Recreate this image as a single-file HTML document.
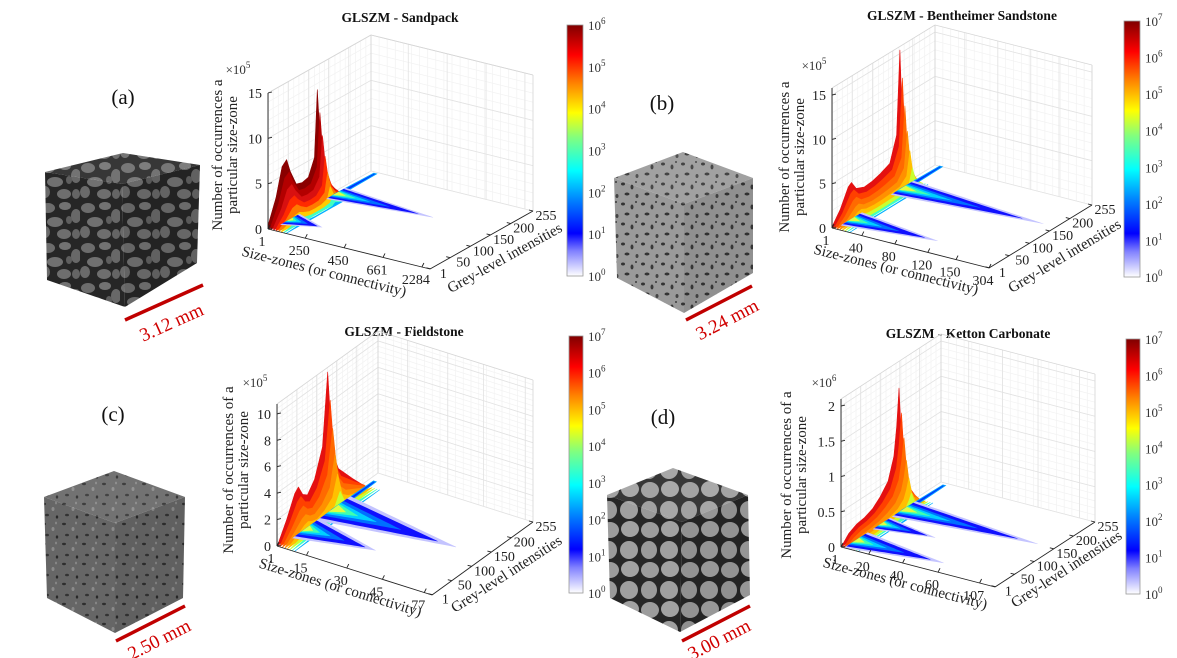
<!DOCTYPE html>
<html><head><meta charset="utf-8">
<style>
html,body{margin:0;padding:0;background:#fff;}
svg{display:block;font-family:"Liberation Serif",serif;}
</style></head>
<body>
<svg id="fig" width="1177" height="658" viewBox="0 0 1177 658" xmlns="http://www.w3.org/2000/svg">
<defs>
 <linearGradient id="cbGrad" x1="0" y1="1" x2="0" y2="0">
  <stop offset="0" stop-color="#ffffff"/><stop offset="0.1" stop-color="#8080ff"/>
  <stop offset="0.17" stop-color="#0000ff"/><stop offset="0.3" stop-color="#0080ff"/>
  <stop offset="0.42" stop-color="#00ffff"/><stop offset="0.55" stop-color="#80ff80"/>
  <stop offset="0.65" stop-color="#ffff00"/><stop offset="0.77" stop-color="#ff8000"/>
  <stop offset="0.88" stop-color="#ff0000"/><stop offset="1" stop-color="#800000"/>
 </linearGradient>
 <pattern id="texA" width="40" height="40" patternUnits="userSpaceOnUse">
  <rect width="40" height="40" fill="#262626"/>
  <ellipse cx="8" cy="8" rx="7" ry="5" fill="#6c6c6c"/><ellipse cx="25" cy="6" rx="6" ry="4" fill="#727272"/>
  <ellipse cx="36" cy="16" rx="5" ry="7" fill="#686868"/><ellipse cx="15" cy="22" rx="8" ry="5" fill="#707070"/>
  <ellipse cx="5" cy="32" rx="5" ry="6" fill="#6a6a6a"/><ellipse cx="24" cy="34" rx="7" ry="5" fill="#6e6e6e"/>
  <ellipse cx="36" cy="34" rx="4" ry="5" fill="#646464"/><ellipse cx="29" cy="20" rx="3" ry="4" fill="#5e5e5e"/>
 </pattern>
 <pattern id="texB" width="20" height="20" patternUnits="userSpaceOnUse">
  <rect width="20" height="20" fill="#9a9a9a"/>
  <ellipse cx="3" cy="4" rx="2" ry="1.5" fill="#333"/><ellipse cx="12" cy="7" rx="1.5" ry="2.5" fill="#3a3a3a"/>
  <ellipse cx="7" cy="14" rx="2.5" ry="1.5" fill="#333"/><ellipse cx="17" cy="16" rx="1.5" ry="2" fill="#444"/>
  <ellipse cx="16" cy="2" rx="1" ry="1" fill="#3a3a3a"/>
 </pattern>
 <pattern id="texC" width="20" height="20" patternUnits="userSpaceOnUse">
  <rect width="20" height="20" fill="#666"/>
  <ellipse cx="4" cy="4" rx="2" ry="1.2" fill="#2e2e2e"/><ellipse cx="13" cy="9" rx="1.5" ry="2" fill="#8a8a8a"/>
  <ellipse cx="7" cy="15" rx="2" ry="1.3" fill="#333"/><ellipse cx="17" cy="17" rx="1.2" ry="1.6" fill="#2a2a2a"/>
  <ellipse cx="16" cy="3" rx="1" ry="1.4" fill="#888"/>
 </pattern>
 <pattern id="texD" width="40" height="40" patternUnits="userSpaceOnUse">
  <rect width="40" height="40" fill="#262626"/>
  <ellipse cx="10" cy="10" rx="9" ry="8" fill="#9c9c9c"/><ellipse cx="30" cy="9" rx="9" ry="8" fill="#a2a2a2"/>
  <ellipse cx="9" cy="30" rx="8" ry="9" fill="#9a9a9a"/><ellipse cx="29" cy="30" rx="9" ry="9" fill="#a0a0a0"/>
 </pattern>
</defs>
</svg>
<script>
// ---------- chart data ----------
const yTickLabels = [1, 50, 100, 150, 200, 255];
const cbExps = [[0,1,2,3,4,5,6],[0,1,2,3,4,5,6,7],[0,1,2,3,4,5,6,7],[0,1,2,3,4,5,6,7]];

const aGrey = [1, 20, 35, 46, 55, 70, 85, 100, 115, 122, 130, 145, 166];
const aWall = [0.5, 3, 6, 6.5, 5, 3.2, 3, 3.2, 5, 12.3, 6, 2, 0];
const aTailGrey = [46, 160];
const aTailLen = [0.2, 0.6];
const aTailWidth = [24, 24];
const aZTicks = [0, 5, 10, 15];
const aXTickLabels = ['1', '250', '450', '661', '2284'];
const aXTickPos = [0, 0.23, 0.47, 0.71, 0.95];

const bGrey = [1, 20, 40, 48, 60, 80, 100, 120, 143, 160, 168, 176, 194];
const bWall = [0.2, 1.5, 3.5, 3.8, 2.8, 2.4, 2.5, 2.8, 3.3, 6, 15.4, 5, 0];
const bTailGrey = [40, 166];
const bTailLen = [0.55, 0.9];
const bTailWidth = [26, 28];
const bZTicks = [0, 5, 10, 15];
const bXTickLabels = ['1', '40', '80', '120', '150', '304'];
const bXTickPos = [0, 0.19, 0.4, 0.61, 0.79, 1.0];

const cGrey = [1, 25, 45, 54, 65, 77, 95, 115, 128, 140, 155, 190, 215];
const cWall = [0, 1.5, 3, 3.3, 2.5, 2.2, 3, 5, 10.4, 4, 2.5, 1, 0];
const cTailGrey = [65, 135];
const cTailLen = [0.45, 0.79];
const cTailWidth = [34, 42];
const cZTicks = [0, 2, 4, 6, 8, 10];
const cXTickLabels = ['1', '15', '30', '45', '77'];
const cXTickPos = [0, 0.19, 0.45, 0.68, 0.95];

const dGrey = [1, 20, 40, 60, 80, 100, 120, 135, 142, 148, 155, 165, 190];
const dWall = [0, 0.12, 0.18, 0.2, 0.25, 0.35, 0.5, 0.8, 1.2, 1.72, 0.9, 0.35, 0];
const dTailGrey = [30, 95, 152];
const dTailLen = [0.57, 0.35, 0.87];
const dTailWidth = [30, 22, 30];
const dZTicks = [0, 0.5, 1, 1.5, 2];
const dXTickLabels = ['1', '20', '40', '60', '107'];
const dXTickPos = [0, 0.18, 0.4, 0.63, 0.9];

// ---------- helpers ----------
const NS = 'http://www.w3.org/2000/svg';
const svg = document.getElementById('fig');
function mk(tag, attrs, parent) {
  const e = document.createElementNS(NS, tag);
  for (const k in attrs) e.setAttribute(k, attrs[k]);
  (parent || svg).appendChild(e);
  return e;
}
function pts(a) { return a.map(p => p[0].toFixed(1) + ',' + p[1].toFixed(1)).join(' '); }

const panels = [
 {id:'a', title:'GLSZM - Sandpack', tx:400, ty:22, O:[268,229], X:[162,40], Y:[103,-58], H:136, zBox:15,
  grey:aGrey, wall:aWall, tg:aTailGrey, tl:aTailLen, tw:aTailWidth, zt:aZTicks, xl:aXTickLabels, xp:aXTickPos, branchTo:250,
  exp:'5', ex:238, ey:74, cb:[567,25,16,251], cbE:cbExps[0],
  zl:['Number of occurrences a','particular size-zone'], zlx:222, zly:155,
  xlab:[323,276,14], ylab:[507,262,-29], dark:true,
  lab:'(a)', labx:123, laby:104, cube:{top:[123,153],left:[45,172],right:[200,165],bl:[47,280],bf:[125,307],br:[197,263],tex:'texA'},
  scale:{x1:125,y1:320,x2:203,y2:285,text:'3.12 mm',cx:174,cy:328}},
 {id:'b', title:'GLSZM - Bentheimer Sandstone', tx:962, ty:20, O:[832,228], X:[157,40], Y:[103,-63], H:140, zBox:15.8,
  grey:bGrey, wall:bWall, tg:bTailGrey, tl:bTailLen, tw:bTailWidth, zt:bZTicks, xl:bXTickLabels, xp:bXTickPos, branchTo:255,
  exp:'5', ex:814, ey:70, cb:[1124,21,16,256], cbE:cbExps[1],
  zl:['Number of occurrences a','particular size-zone'], zlx:789, zly:157,
  xlab:[895,274,14], ylab:[1067,260,-31], dark:false,
  lab:'(b)', labx:662, laby:110, cube:{top:[683,152],left:[614,178],right:[753,178],bl:[617,278],bf:[684,313],br:[753,273],tex:'texB'},
  scale:{x1:686,y1:320,x2:752,y2:286,text:'3.24 mm',cx:730,cy:325}},
 {id:'c', title:'GLSZM - Fieldstone', tx:404, ty:336, O:[277,546], X:[155,49], Y:[101,-73], H:142, zBox:10.75,
  grey:cGrey, wall:cWall, tg:cTailGrey, tl:cTailLen, tw:cTailWidth, zt:cZTicks, xl:cXTickLabels, xp:cXTickPos, branchTo:232,
  exp:'5', ex:255, ey:387, cb:[569,336,14,257], cbE:cbExps[2],
  zl:['Number of occurrences of a','particular size-zone'], zlx:233, zly:470,
  xlab:[339,592,17], ylab:[509,578,-33], dark:false,
  lab:'(c)', labx:113, laby:421, cube:{top:[114,471],left:[44,497],right:[185,497],bl:[47,598],bf:[115,633],br:[183,598],tex:'texC'},
  scale:{x1:116,y1:641,x2:185,y2:606,text:'2.50 mm',cx:162,cy:645}},
 {id:'d', title:'GLSZM - Ketton Carbonate', tx:968, ty:338, O:[841,547], X:[154,40], Y:[100,-65], H:148, zBox:2.1,
  grey:dGrey, wall:dWall, tg:dTailGrey, tl:dTailLen, tw:dTailWidth, zt:dZTicks, xl:dXTickLabels, xp:dXTickPos, branchTo:248,
  exp:'6', ex:824, ey:387, cb:[1126,339,14,255], cbE:cbExps[3],
  zl:['Number of occurrences of a','particular size-zone'], zlx:791, zly:475,
  xlab:[904,588,14.6], ylab:[1069,573,-33], dark:false,
  lab:'(d)', labx:663, laby:424, cube:{top:[673,468],left:[607,495],right:[748,495],bl:[610,598],bf:[680,632],br:[750,595],tex:'texD'},
  scale:{x1:682,y1:641,x2:750,y2:606,text:'3.00 mm',cx:722,cy:645}}
];

function drawPanel(P) {
  const g = mk('g', {});
  
  
  const proj = (xf, gr, z) => [P.O[0] + xf * P.X[0] + gr / 255 * P.Y[0], P.O[1] + xf * P.X[1] + gr / 255 * P.Y[1] - z / P.zBox * P.H];

  // cube
  const C = P.cube;
  const ft = [C.left[0] + C.right[0] - C.top[0], C.left[1] + C.right[1] - C.top[1]];
  const cg = mk('g', {}, g);
  
  
  mk('polygon', {points: pts([C.top, C.right, ft, C.left]), fill: 'url(#' + C.tex + ')'}, cg);
  mk('polygon', {points: pts([C.left, ft, C.bf, C.bl]), fill: 'url(#' + C.tex + ')'}, cg);
  mk('polygon', {points: pts([ft, C.right, C.br, C.bf]), fill: 'url(#' + C.tex + ')'}, cg);
  mk('polygon', {points: pts([C.top, C.right, ft, C.left]), fill: '#fff', opacity: 0.08}, cg);
  mk('polygon', {points: pts([ft, C.right, C.br, C.bf]), fill: '#000', opacity: 0.06}, cg);
  const lab = mk('text', {x: P.labx, y: P.laby, 'font-size': 21, 'text-anchor': 'middle', fill: '#111'}, g);
  lab.textContent = P.lab;
  
  
  const S = P.scale;
  const sl = mk('line', {x1: S.x1, y1: S.y1, x2: S.x2, y2: S.y2, stroke: '#c00000', 'stroke-width': 3.5}, g);
  
  
  const ang = Math.atan2(S.y2 - S.y1, S.x2 - S.x1) * 180 / Math.PI;
  const st = mk('text', {x: S.cx, y: S.cy, 'font-size': 19, 'text-anchor': 'middle', fill: '#d00000', transform: 'rotate(' + ang.toFixed(1) + ' ' + S.cx + ' ' + S.cy + ')'}, g);
  st.textContent = S.text;
  
  

  // title
  const t = mk('text', {x: P.tx, y: P.ty, 'font-size': 13.5, 'font-weight': 'bold', 'text-anchor': 'middle', fill: '#111'}, g);
  t.textContent = P.title;
  
  

  // grid
  const grid = mk('g', {}, g);
  
  
  const zStep = P.zt[1] - P.zt[0];
  const line = (a, b, c, w, parent) => mk('line', {x1: a[0], y1: a[1], x2: b[0], y2: b[1], stroke: c, 'stroke-width': w}, parent || grid);
  for (let gr = 0; gr <= 255; gr += 255 / 20) line(proj(0, gr, 0), proj(0, gr, P.zBox), '#f2f2f2', 0.7);
  for (let xf = 0; xf <= 1.0001; xf += 0.05) line(proj(xf, 255, 0), proj(xf, 255, P.zBox), '#f2f2f2', 0.7);
  for (let z = 0; z <= P.zBox; z += zStep / 5) { line(proj(0, 0, z), proj(0, 255, z), '#f2f2f2', 0.7); line(proj(0, 255, z), proj(1, 255, z), '#f2f2f2', 0.7); }
  yTickLabels.forEach(gr => line(proj(0, gr, 0), proj(0, gr, P.zBox), '#e2e2e2', 0.8));
  P.xp.forEach(xf => line(proj(xf, 255, 0), proj(xf, 255, P.zBox), '#e2e2e2', 0.8));
  P.zt.forEach(z => { line(proj(0, 0, z), proj(0, 255, z), '#e2e2e2', 0.8); line(proj(0, 255, z), proj(1, 255, z), '#e2e2e2', 0.8); });
  line(proj(0, 0, P.zBox), proj(0, 255, P.zBox), '#d6d6d6', 0.8);
  line(proj(0, 255, P.zBox), proj(1, 255, P.zBox), '#d6d6d6', 0.8);
  line(proj(0, 255, 0), proj(0, 255, P.zBox), '#d6d6d6', 0.8);
  line(proj(1, 255, 0), proj(1, 255, P.zBox), '#d6d6d6', 0.8);

  // surface: wall (layers)
  const wallG = mk('g', {}, g);
  
  
  const fac = [1, 0.8, 0.6, 0.42, 0.28, 0.16, 0.08, 0.03];
  const cols = P.dark ? ['#8a0000', '#b30000', '#d81010', '#ff2a00', '#ff7a00', '#ffcc00', '#40ffc0', '#00b0ff']
                      : ['#e41010', '#ff4000', '#ff6a00', '#ff9000', '#ffc000', '#c8ff30', '#40ffc0', '#00b0ff'];
  fac.forEach((f, k) => {
    const xf = k * 0.016;
    const top = P.grey.map((gr, i) => proj(xf, gr, P.wall[i] * f));
    const base = P.grey.map(gr => proj(xf, gr, 0)).reverse();
    const p = mk('polygon', {points: pts(top.concat(base)), fill: cols[k], stroke: cols[k], 'stroke-width': 0.6, 'stroke-linejoin': 'round'}, wallG);
    
    
  });

  // tails
  const tailG = mk('g', {}, g);
  
  
  const gMax = Math.max.apply(null, P.tg);
  // thin branch toward the back
  const bp = mk('polygon', {points: pts([proj(0.02, gMax - 4, 0), proj(0.03, P.branchTo, 0), proj(0.045, P.branchTo, 0), proj(0.05, gMax, 0)]), fill: '#0030ff', stroke: '#00a0ff', 'stroke-width': 1}, tailG);
  
  
  const tl = [[1, 1, '#c4c4ff'], [0.85, 0.8, '#1010ff'], [0.55, 0.6, '#0070ff'], [0.35, 0.45, '#00d0ff'], [0.2, 0.35, '#40ffb0'], [0.1, 0.28, '#e0ff40']];
  P.tg.forEach((g0, i) => {
    tl.forEach(L => {
      const len = P.tl[i] * L[0], w = P.tw[i] * L[1];
      const up = [], dn = [];
      for (let s = 0; s <= 1.0001; s += 0.05) {
        const hw = w * (1 - s) + 0.4;
        up.push(proj(s * len + 0.02, g0 + hw, 0));
        dn.push(proj(s * len + 0.02, g0 - hw, 0));
      }
      const p = mk('polygon', {points: pts(up.concat(dn.reverse())), fill: L[2]}, tailG);
      
      
    });
  });

  // axes
  const ax = mk('g', {}, g);
  
  
  line(proj(0, 0, 0), proj(0, 0, P.zBox), '#222', 0.9, ax);
  line(proj(0, 0, 0), proj(1, 0, 0), '#222', 0.9, ax);
  line(proj(1, 0, 0), proj(1, 255, 0), '#222', 0.9, ax);
  P.zt.forEach(z => {
    const p = proj(0, 0, z);
    line(p, [p[0] + 4, p[1] - 1], '#222', 0.9, ax);
    const tx = mk('text', {x: p[0] - 6, y: p[1] + 5, 'font-size': 14, 'text-anchor': 'end', fill: '#222'}, ax);
    tx.textContent = String(z);
    
    
  });
  P.xp.forEach((xf, i) => {
    const p = proj(xf, 0, 0);
    line(p, [p[0] + 2, p[1] - 4], '#222', 0.9, ax);
    const tx = mk('text', {x: p[0] - 6, y: p[1] + 17, 'font-size': 14, 'text-anchor': 'middle', fill: '#222'}, ax);
    tx.textContent = P.xl[i];
    
    
  });
  yTickLabels.forEach(gr => {
    const p = proj(1, gr, 0);
    line(p, [p[0] - 4, p[1] - 1], '#222', 0.9, ax);
    const tx = mk('text', {x: p[0] + 13, y: p[1] + 9, 'font-size': 14, 'text-anchor': 'middle', fill: '#222'}, ax);
    tx.textContent = String(gr);
    
    
  });
  const ex = mk('text', {x: P.ex, y: P.ey, 'font-size': 13, 'text-anchor': 'middle', fill: '#333'}, ax);
  ex.textContent = '×10';
  const exs = mk('tspan', {dy: -6, 'font-size': 9}, ex);
  exs.textContent = P.exp;
  
  
  P.zl.forEach((s, i) => {
    const x = P.zlx + i * 15;
    const tx = mk('text', {x: x, y: P.zly, 'font-size': 15, 'text-anchor': 'middle', fill: '#222', transform: 'rotate(-90 ' + x + ' ' + P.zly + ')'}, ax);
    tx.textContent = s;
    
    
  });
  const xt = mk('text', {x: P.xlab[0], y: P.xlab[1], 'font-size': 15, 'text-anchor': 'middle', fill: '#222', transform: 'rotate(' + P.xlab[2] + ' ' + P.xlab[0] + ' ' + P.xlab[1] + ')'}, ax);
  xt.textContent = 'Size-zones (or connectivity)';
  
  
  const yt = mk('text', {x: P.ylab[0], y: P.ylab[1], 'font-size': 15, 'text-anchor': 'middle', fill: '#222', transform: 'rotate(' + P.ylab[2] + ' ' + P.ylab[0] + ' ' + P.ylab[1] + ')'}, ax);
  yt.textContent = 'Grey-level intensities';
  
  

  // colorbar
  const cbG = mk('g', {}, g);
  
  
  const [cx, cy, cw, ch] = P.cb;
  mk('rect', {x: cx, y: cy, width: cw, height: ch, fill: 'url(#cbGrad)', stroke: '#999', 'stroke-width': 0.8}, cbG);
  const n = P.cbE.length - 1;
  P.cbE.forEach((e, i) => {
    const y = cy + ch - i / n * ch;
    const tx = mk('text', {x: cx + cw + 5, y: y + 5, 'font-size': 13, fill: '#333'}, cbG);
    tx.textContent = '10';
    const sp = mk('tspan', {dy: -6, 'font-size': 9}, tx);
    sp.textContent = String(e);
    
    
  });
}
panels.forEach(drawPanel);
</script>
</body></html>
